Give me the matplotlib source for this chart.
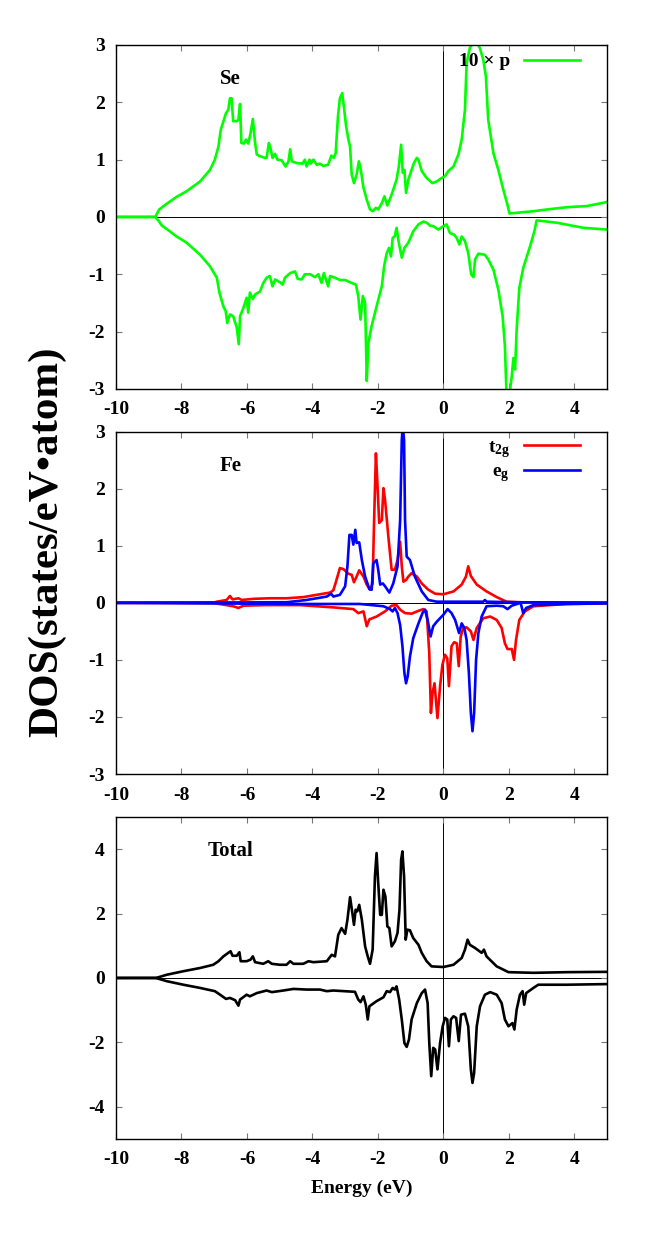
import matplotlib
matplotlib.use('Agg')
import matplotlib.pyplot as plt

plt.rcParams['font.family'] = ['Liberation Serif', 'DejaVu Serif']
plt.rcParams['font.weight'] = 'bold'
plt.rcParams['axes.unicode_minus'] = False
plt.rcParams['mathtext.fontset'] = 'custom'
plt.rcParams['mathtext.rm'] = 'Liberation Serif:bold'
plt.rcParams['mathtext.it'] = 'Liberation Serif:bold'
plt.rcParams['mathtext.bf'] = 'Liberation Serif:bold'

# ---- Se p (x10), spin up / spin down ----
se_up_e = [-10, -8.8, -8.68, -8.45, -8.15, -7.84, -7.43, -7.13, -6.98, -6.87, -6.80, -6.64, -6.57,
           -6.52, -6.47, -6.42, -6.31, -6.26, -6.21, -6.17, -6.09, -6.03, -5.96, -5.89, -5.82,
           -5.75, -5.70, -5.60, -5.45, -5.40, -5.33, -5.28, -5.22, -5.14, -5.07, -4.94, -4.82,
           -4.73, -4.68, -4.63, -4.48, -4.30, -4.23, -4.18, -4.09, -4.05, -3.97, -3.87, -3.77,
           -3.67, -3.52, -3.42, -3.35, -3.29, -3.22, -3.16, -3.09, -3.04, -2.97, -2.90, -2.85,
           -2.80, -2.73, -2.65, -2.58, -2.52, -2.44, -2.34, -2.24, -2.16, -2.06, -1.99, -1.88,
           -1.80, -1.71, -1.58, -1.43, -1.36, -1.29, -1.24, -1.19, -1.14, -1.07, -1.00, -0.90,
           -0.81, -0.76, -0.66, -0.51, -0.33, -0.20, -0.05, 0.05, 0.15, 0.31, 0.46, 0.56, 0.66,
           0.71, 0.81, 0.97, 1.12, 1.22, 1.30, 1.37, 1.53, 1.68, 1.83, 1.96, 2.02, 2.75, 3.16,
           3.77, 4.38, 5.0]
se_up_dos = [0, 0, 0.13, 0.23, 0.35, 0.45, 0.62, 0.82, 1.00, 1.23, 1.52, 1.81, 1.87,
             2.07, 2.07, 1.67, 1.67, 1.70, 1.97, 1.29, 1.28, 1.35, 1.28, 1.46, 1.71,
             1.29, 1.09, 1.06, 1.03, 1.03, 1.29, 1.20, 1.03, 1.10, 1.00, 0.99, 0.88,
             0.97, 1.18, 0.97, 0.94, 0.93, 1.00, 0.88, 1.00, 0.93, 1.00, 0.91, 0.93,
             0.89, 0.91, 1.07, 1.03, 1.11, 1.75, 2.07, 2.16, 1.93, 1.58, 1.35, 1.23,
             0.74, 0.59, 0.74, 0.97, 0.82, 0.51, 0.30, 0.13, 0.10, 0.16, 0.13, 0.24,
             0.36, 0.20, 0.39, 0.65, 0.88, 1.26, 0.77, 0.82, 0.42, 0.65, 0.77, 0.94,
             1.03, 1.00, 0.80, 0.68, 0.59, 0.62, 0.68, 0.71, 0.80, 0.88, 1.09, 1.35, 1.87,
             2.68, 2.95, 3.10, 2.94, 2.74, 2.45, 1.70, 1.11, 0.82, 0.48, 0.21, 0.06, 0.10, 0.13,
             0.17, 0.19, 0.26]

se_dn_e = [-10, -8.8, -8.68, -8.60, -8.45, -8.15, -7.84, -7.43, -7.13, -6.92, -6.84, -6.72, -6.65,
           -6.60, -6.52, -6.42, -6.31, -6.25, -6.21, -6.11, -6.01, -5.96, -5.91, -5.82, -5.75,
           -5.60, -5.50, -5.40, -5.30, -5.22, -5.14, -4.99, -4.91, -4.84, -4.68, -4.53, -4.45,
           -4.33, -4.23, -4.07, -3.92, -3.82, -3.72, -3.65, -3.52, -3.46, -3.31, -3.16, -3.00,
           -2.85, -2.67, -2.60, -2.53, -2.46, -2.39, -2.34, -2.29, -2.19, -2.04, -1.88, -1.81,
           -1.73, -1.66, -1.60, -1.55, -1.48, -1.43, -1.36, -1.27, -1.19, -1.07, -0.92, -0.76,
           -0.61, -0.51, -0.41, -0.31, -0.15, 0.00, 0.10, 0.20, 0.33, 0.41, 0.49, 0.56, 0.66,
           0.76, 0.85, 0.92, 0.97, 1.07, 1.27, 1.37, 1.53, 1.68, 1.81, 1.88, 1.93, 2.02, 2.09,
           2.14, 2.19, 2.24, 2.32, 2.44, 2.65, 2.78, 2.85, 3.46, 4.28, 5.0]
se_dn_dos = [0, 0, -0.08, -0.15, -0.21, -0.34, -0.45, -0.66, -0.86, -1.06, -1.32, -1.56, -1.64,
             -1.85, -1.70, -1.73, -1.93, -2.22, -1.73, -1.59, -1.41, -1.67, -1.32, -1.43, -1.35,
             -1.30, -1.15, -1.06, -1.03, -1.21, -1.09, -1.14, -1.18, -1.06, -0.98, -0.95, -1.08,
             -1.09, -1.00, -1.00, -1.05, -1.00, -1.15, -0.98, -1.21, -1.03, -1.06, -1.10, -1.10,
             -1.14, -1.18, -1.38, -1.79, -1.38, -1.50, -2.86, -2.20, -1.90, -1.56, -1.21, -0.86,
             -0.63, -0.54, -0.69, -0.37, -0.33, -0.19, -0.45, -0.71, -0.54, -0.45, -0.25, -0.13,
             -0.08, -0.10, -0.15, -0.16, -0.22, -0.16, -0.13, -0.28, -0.31, -0.37, -0.48, -0.34, -0.42,
             -0.63, -1.00, -1.05, -0.74, -0.64, -0.66, -0.74, -0.92, -1.27, -1.73, -2.25, -3.10, -3.10, -2.78,
             -2.46, -2.66, -1.96, -1.24, -0.89, -0.51, -0.25, -0.06, -0.10, -0.19, -0.22]

# ---- Fe t2g ----
t2g_up_e = [-10, -7.0, -6.92, -6.62, -6.52, -6.44, -6.26, -6.16, -5.80, -5.30, -4.79, -4.28, -3.77,
            -3.46, -3.36, -3.28, -3.16, -3.05, -2.90, -2.80, -2.73, -2.65, -2.57, -2.44, -2.34,
            -2.24, -2.16, -2.12, -2.06, -2.01, -1.96, -1.88, -1.83, -1.78, -1.68, -1.58, -1.48,
            -1.40, -1.32, -1.27, -1.22, -1.14, -1.07, -0.97, -0.81, -0.66, -0.46, -0.25, 0.0,
            0.31, 0.56, 0.69, 0.76, 0.84, 1.02, 1.32, 1.63, 1.93, 2.75, 5.0]
t2g_up_dos = [0.0, 0.005, 0.02, 0.05, 0.12, 0.06, 0.08, 0.05, 0.07, 0.08, 0.08, 0.10, 0.15,
              0.18, 0.22, 0.37, 0.61, 0.59, 0.51, 0.49, 0.36, 0.46, 0.57, 0.46, 0.32,
              0.23, 0.34, 1.34, 2.62, 2.04, 1.40, 1.45, 2.01, 1.80, 1.16, 0.58, 0.58,
              0.75, 1.07, 0.64, 0.37, 0.40, 0.46, 0.52, 0.46, 0.34, 0.23, 0.16, 0.15,
              0.20, 0.32, 0.46, 0.64, 0.47, 0.32, 0.20, 0.10, 0.02, 0.0, 0.0]

t2g_dn_e = [-10, -7.0, -6.42, -6.26, -6.11, -5.40, -4.38, -3.36, -2.75, -2.60, -2.44, -2.34, -2.26,
            -2.04, -1.78, -1.58, -1.43, -1.32, -1.17, -0.97, -0.76, -0.61, -0.51, -0.43, -0.38,
            -0.33, -0.27, -0.18, -0.10, -0.03, 0.05, 0.12, 0.17, 0.25, 0.33, 0.41, 0.47, 0.53,
            0.61, 0.71, 0.84, 0.92, 1.02, 1.22, 1.43, 1.63, 1.78, 1.88, 1.96, 2.09, 2.16, 2.22,
            2.32, 2.49, 2.75, 3.77, 5.0]
t2g_dn_dos = [0.0, -0.005, -0.06, -0.09, -0.05, -0.04, -0.04, -0.08, -0.11, -0.18, -0.15, -0.41, -0.29,
              -0.24, -0.15, -0.05, -0.04, -0.12, -0.18, -0.19, -0.14, -0.11, -0.15, -0.88, -1.93,
              -1.58, -1.41, -2.02, -1.46, -1.09, -0.91, -0.97, -1.46, -0.76, -0.69, -0.71, -1.11, -0.59,
              -0.44, -0.43, -0.50, -0.65, -0.44, -0.27, -0.24, -0.30, -0.44, -0.71, -0.81, -0.81, -1.00, -0.65,
              -0.30, -0.15, -0.06, -0.02, -0.01]

# ---- Fe eg ----
eg_up_e = [-10, -4.79, -4.18, -3.56, -3.43, -3.36, -3.16, -3.00, -2.93, -2.87, -2.80, -2.75, -2.69,
           -2.65, -2.57, -2.49, -2.39, -2.26, -2.19, -2.14, -2.04, -1.99, -1.93, -1.85, -1.78,
           -1.65, -1.53, -1.40, -1.32, -1.27, -1.24, -1.20, -1.17, -1.12, -1.02, -0.87, -0.66,
           -0.46, -0.20, 0.71, 1.22, 1.27, 1.32, 2.24, 5.0]
eg_up_dos = [0.0, 0.01, 0.05, 0.11, 0.16, 0.11, 0.14, 0.29, 0.64, 1.19, 1.19, 1.02, 1.28,
             1.05, 1.06, 0.75, 0.46, 0.24, 0.23, 0.69, 0.75, 0.58, 0.32, 0.34, 0.29,
             0.18, 0.34, 0.64, 1.45, 2.85, 3.10, 2.85, 1.45, 0.81, 0.75, 0.46, 0.20,
             0.05, 0.02, 0.02, 0.02, 0.05, 0.02, 0.01, 0.005]

eg_dn_e = [-10, -4.38, -3.36, -2.55, -1.83, -1.63, -1.55, -1.48, -1.40, -1.32, -1.25, -1.19, -1.14,
           -1.09, -1.02, -0.92, -0.76, -0.63, -0.56, -0.48, -0.39, -0.31, -0.20, 0.0, 0.13,
           0.25, 0.36, 0.48, 0.56, 0.64, 0.71, 0.78, 0.84, 0.89, 0.94, 1.00, 1.07, 1.17, 1.32,
           1.63, 1.83, 1.96, 2.09, 2.36, 2.44, 2.53, 2.75, 3.77, 5.0]
eg_dn_dos = [0.0, -0.02, -0.02, -0.02, -0.06, -0.11, -0.15, -0.09, -0.18, -0.39, -0.76, -1.23, -1.41,
             -1.29, -0.94, -0.62, -0.36, -0.17, -0.12, -0.30, -0.59, -0.41, -0.33, -0.21, -0.11,
             -0.18, -0.30, -0.53, -0.36, -0.44, -0.65, -1.23, -1.93, -2.25, -1.93, -1.00, -0.53, -0.24, -0.06,
             -0.05, -0.06, -0.11, -0.05, 0.0, -0.18, -0.09, -0.04, -0.02, -0.01]

# ---- Total ----
tot_up_e = [-10, -8.8, -8.71, -8.45, -7.94, -7.43, -7.03, -6.87, -6.72, -6.57, -6.50, -6.44, -6.31,
            -6.23, -6.19, -6.01, -5.89, -5.82, -5.75, -5.50, -5.35, -5.24, -4.99, -4.79, -4.68,
            -4.58, -4.28, -4.12, -3.97, -3.56, -3.41, -3.31, -3.21, -3.11, -3.00, -2.93, -2.85,
            -2.78, -2.73, -2.68, -2.63, -2.57, -2.49, -2.39, -2.31, -2.24, -2.16, -2.09, -2.04,
            -1.99, -1.93, -1.88, -1.83, -1.77, -1.71, -1.65, -1.58, -1.48, -1.40, -1.34, -1.29,
            -1.25, -1.20, -1.15, -1.10, -1.02, -0.92, -0.76, -0.66, -0.51, -0.36, 0.0, 0.31,
            0.56, 0.66, 0.74, 0.81, 0.97, 1.17, 1.24, 1.32, 1.63, 1.99, 2.75, 3.77, 5.0]
tot_up_dos = [0, 0, 0.02, 0.10, 0.21, 0.31, 0.41, 0.52, 0.67, 0.78, 0.83, 0.69, 0.69,
              0.80, 0.52, 0.52, 0.57, 0.67, 0.49, 0.44, 0.52, 0.44, 0.41, 0.41, 0.52,
              0.44, 0.44, 0.52, 0.49, 0.52, 0.72, 0.67, 1.34, 1.55, 1.37, 1.81, 2.51,
              2.02, 1.65, 2.12, 2.07, 2.27, 1.81, 0.98, 0.67, 0.44, 0.88, 3.15, 3.88,
              2.95, 1.96, 1.96, 2.74, 2.53, 1.60, 1.55, 0.98, 1.14, 1.40, 2.12, 3.67,
              3.93, 3.15, 1.19, 1.50, 1.48, 1.24, 1.03, 0.78, 0.52, 0.36, 0.34, 0.41,
              0.62, 0.88, 1.19, 1.03, 0.93, 0.78, 0.88, 0.67, 0.36, 0.18, 0.16, 0.18, 0.19]

tot_dn_e = [-10, -8.8, -8.68, -8.45, -7.94, -7.43, -6.98, -6.82, -6.64, -6.52, -6.36, -6.26, -6.21,
            -6.01, -5.91, -5.70, -5.40, -5.24, -4.89, -4.58, -4.18, -3.77, -3.56, -3.36, -2.70,
            -2.60, -2.53, -2.44, -2.37, -2.31, -2.26, -2.04, -1.83, -1.73, -1.63, -1.55, -1.48,
            -1.43, -1.35, -1.27, -1.19, -1.12, -1.05, -0.97, -0.81, -0.66, -0.56, -0.48, -0.43,
            -0.37, -0.31, -0.25, -0.18, -0.10, -0.02, 0.05, 0.12, 0.17, 0.23, 0.31, 0.39, 0.47,
            0.54, 0.66, 0.76, 0.84, 0.89, 0.94, 1.02, 1.12, 1.27, 1.43, 1.63, 1.78, 1.88, 1.99,
            2.11, 2.17, 2.24, 2.34, 2.42, 2.47, 2.53, 2.75, 2.90, 3.77, 5.0]
tot_dn_dos = [0, 0, -0.03, -0.10, -0.21, -0.31, -0.41, -0.52, -0.65, -0.62, -0.69, -0.86, -0.67,
              -0.52, -0.57, -0.47, -0.39, -0.44, -0.39, -0.34, -0.36, -0.36, -0.41, -0.39, -0.43,
              -0.67, -0.75, -0.57, -0.83, -1.29, -0.88, -0.72, -0.60, -0.41, -0.44, -0.31, -0.36,
              -0.26, -0.67, -1.29, -2.02, -2.14, -1.91, -1.29, -0.78, -0.47, -0.36, -0.78, -2.02,
              -3.05, -2.17, -2.22, -2.84, -2.02, -1.50, -1.24, -1.29, -2.12, -1.29, -1.19, -1.24, -1.96,
              -1.14, -1.11, -1.50, -2.84, -3.26, -2.95, -1.50, -0.88, -0.52, -0.44, -0.52, -0.78, -1.29, -1.50,
              -1.40, -1.60, -0.98, -0.52, -0.41, -0.83, -0.47, -0.31, -0.21, -0.21, -0.19]

xticks = [-10, -8, -6, -4, -2, 0, 2, 4]

fig = plt.figure(figsize=(6.64, 12.49), dpi=100)
ax1 = fig.add_axes([0.1747, 0.6886, 0.7395, 0.2754])
ax2 = fig.add_axes([0.1747, 0.3803, 0.7395, 0.2741])
ax3 = fig.add_axes([0.1747, 0.0881, 0.7395, 0.2578])

lw = 1.9
ax1.plot(se_up_e, se_up_dos, color='#00ff00', lw=lw, label='10 × p')
ax1.plot(se_dn_e, se_dn_dos, color='#00ff00', lw=lw)

ax2.plot(t2g_up_e, t2g_up_dos, color='#ff0000', lw=lw, label=r'$\mathrm{t_{2g}}$')
ax2.plot(t2g_dn_e, t2g_dn_dos, color='#ff0000', lw=lw)
ax2.plot(eg_up_e, eg_up_dos, color='#0000ff', lw=lw, label=r'$\mathrm{e_{g}}$')
ax2.plot(eg_dn_e, eg_dn_dos, color='#0000ff', lw=lw)

ax3.plot(tot_up_e, tot_up_dos, color='black', lw=lw)
ax3.plot(tot_dn_e, tot_dn_dos, color='black', lw=lw)

for ax, ylim, yt, name, ty in [(ax1, 3, range(-3, 4), 'Se', 2.40),
                               (ax2, 3, range(-3, 4), 'Fe', 2.40),
                               (ax3, 5, range(-4, 5, 2), 'Total', 3.95)]:
    ax.set_xlim(-10, 5)
    ax.set_ylim(-ylim, ylim)
    ax.set_xticks(xticks)
    ax.set_yticks(list(yt))
    ax.axhline(0, color='black', lw=0.7, zorder=0)
    ax.axvline(0, color='black', lw=0.7, zorder=0)
    ax.tick_params(direction='in', top=True, right=True, length=4, width=0.8,
                   color='#777777', labelsize=14)
    ax.tick_params(axis='x', pad=9)
    ax.tick_params(axis='y', pad=8)
    for lab in ax.get_xticklabels() + ax.get_yticklabels():
        lab.set_fontweight('bold')
    for sp in ax.spines.values():
        sp.set_linewidth(1.0)
    ax.text(-6.5, ty, name, fontsize=15, fontweight='bold', ha='center', va='center')

leg_kw = dict(loc='upper right', frameon=False, markerfirst=False, handlelength=2.9,
              handletextpad=0.7, borderaxespad=0, borderpad=0,
              prop={'size': 14, 'weight': 'bold'})
ax1.legend(bbox_to_anchor=(0.945, 0.977), **leg_kw)
ax2.legend(bbox_to_anchor=(0.945, 0.98), labelspacing=0.15, **leg_kw)

ax3.set_xlabel('Energy (eV)', fontsize=14, fontweight='bold', labelpad=8)
fig.text(0.071, 0.566, 'DOS(states/eV•atom)', rotation=90, fontsize=31, fontweight='bold',
         ha='center', va='center')

fig.savefig('out.png', dpi=100)
